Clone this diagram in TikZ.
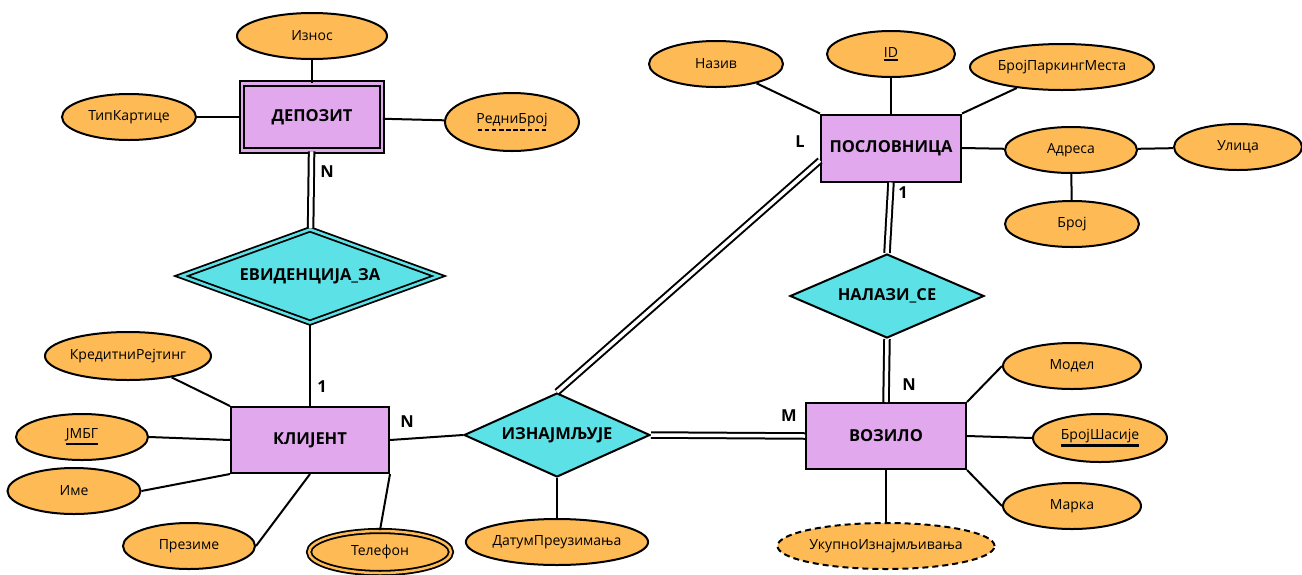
\documentclass[tikz,border=0pt]{standalone}
\usepackage{fontspec}
\setmainfont{Open Sans}
\usetikzlibrary{shapes.geometric}

\definecolor{attrorange}{HTML}{FDBA55}
\definecolor{entviolet}{HTML}{E1A8EE}
\definecolor{relcyan}{HTML}{5CE1E6}

\newcommand{\solidunder}[1]{\setbox0\hbox{#1}\vtop{\copy0\kern1.5pt\hrule height 2.2pt width\wd0}}
\newcommand{\dashunder}[1]{\setbox0\hbox{#1}\vtop{\offinterlineskip\copy0\kern2pt\hbox to\wd0{\xleaders\hbox to 7pt{\hss\vrule height 2.4pt width 4.5pt\hss}\hfill}}}

\tikzset{
  entity/.style={draw, line width=2pt, fill=entviolet, minimum width=158pt, minimum height=66pt,
    font=\fontsize{16.5}{19}\selectfont\bfseries},
  weakentity/.style={entity, double=entviolet, double distance=2.5pt, line width=1.8pt,
    minimum width=140pt, minimum height=67pt},
  attr/.style={draw, ellipse, line width=2pt, fill=attrorange, minimum width=134pt, minimum height=46pt,
    inner sep=0pt, font=\fontsize{14}{17}\selectfont},
  multiattr/.style={attr, double=attrorange, double distance=2.5pt, line width=1.8pt},
  derivattr/.style={attr, dashed, dash pattern=on 6pt off 4pt},
  rel/.style={draw, diamond, line width=2pt, fill=relcyan, inner sep=0pt,
    font=\fontsize{16.5}{19}\selectfont\bfseries},
  identrel/.style={rel, double=relcyan, double distance=2.5pt, line width=1.8pt},
  conn/.style={line width=2pt},
  total/.style={double, double distance=3.5pt, line width=2pt},
  card/.style={font=\fontsize{16.5}{19}\selectfont\bfseries}
}

\begin{document}
\begin{tikzpicture}[x=1pt,y=-1pt]
        \useasboundingbox (0,0) rectangle (1302,574);

        % entities
        \node[weakentity] (depozit) at (312,117) {ДЕПОЗИТ};
        \node[entity] (klijent) at (310,440) {КЛИЈЕНТ};
        \node[entity, minimum width=140pt, minimum height=67pt] (poslovnica) at (891,148) {ПОСЛОВНИЦА};
        \node[entity, minimum width=160pt] (vozilo) at (886,436) {ВОЗИЛО};

        % relationships
        \node[identrel, aspect=2.74, minimum width=258pt, minimum height=94pt] (evidencija) at (310,276) {ЕВИДЕНЦИЈА\_ЗА};
        \node[rel, aspect=2.21, minimum width=186pt, minimum height=84pt] (iznajmljuje) at (557,435) {ИЗНАЈМЉУЈЕ};
        \node[rel, aspect=2.31, minimum width=194pt, minimum height=84pt] (nalazise) at (887,296) {НАЛАЗИ\_СЕ};

        % attributes
        \node[attr, minimum width=150pt] (iznos) at (312,36) {Износ};
        \node[attr] (tipkartice) at (129,117) {ТипКартице};
        \node[attr, minimum height=58pt] (rednibroj) at (512,122) {\dashunder{РедниБрој}};
        \node[attr, minimum width=166pt, minimum height=48pt] (kreditni) at (128,356) {КредитниРејтинг};
        \node[attr, minimum width=132pt] (jmbg) at (82,437) {\solidunder{ЈМБГ}};
        \node[attr, minimum width=133pt] (ime) at (74,491) {Име};
        \node[attr, minimum width=132pt] (prezime) at (189,546) {Презиме};
        \node[multiattr, minimum width=142pt, minimum height=42pt] (telefon) at (380,552) {Телефон};
        \node[attr, minimum width=174pt] (datum) at (557,542) {ДатумПреузимања};
        \node[derivattr, minimum width=216pt] (ukupno) at (886,546) {УкупноИзнајмљивања};
        \node[attr] (naziv) at (716,64) {Назив};
        \node[attr, minimum width=128pt] (id) at (891,54) {\solidunder{ID}};
        \node[attr, minimum width=184pt] (brojparking) at (1062,67) {БројПаркингМеста};
        \node[attr, minimum width=132pt] (adresa) at (1071,150) {Адреса};
        \node[attr, minimum width=128pt] (ulica) at (1238,147) {Улица};
        \node[attr] (broj) at (1072,224) {Број};
        \node[attr, minimum width=138pt] (model) at (1072,366) {Модел};
        \node[attr, minimum height=48pt] (brojsasije) at (1100,438) {\solidunder{БројШасије}};
        \node[attr, minimum width=138pt] (marka) at (1072,506) {Марка};

        % connectors
        \draw[conn] (iznos) -- (depozit);
        \draw[conn] (tipkartice) -- (depozit);
        \draw[conn] (rednibroj) -- (depozit);
        \draw[total] (depozit) -- (evidencija);
        \draw[conn] (evidencija) -- (klijent);
        \draw[conn] (kreditni) -- (klijent.north west);
        \draw[conn] (jmbg.east) -- (klijent.west);
        \draw[conn] (ime.east) -- (klijent.south west);
        \draw[conn] (prezime.east) -- (klijent.south);
        \draw[conn] (telefon.north) -- (klijent.south east);
        \draw[conn] (klijent.east) -- (iznajmljuje.west);
        \draw[conn] (iznajmljuje.south) -- (datum.north);
        \draw[total] (iznajmljuje.east) -- (vozilo.west);
        \draw[total] (iznajmljuje.north) -- (poslovnica.190);
        \draw[conn] (naziv) -- (poslovnica.north west);
        \draw[conn] (id) -- (poslovnica.north);
        \draw[conn] (brojparking) -- (poslovnica.north east);
        \draw[conn] (poslovnica.east) -- (adresa);
        \draw[conn] (adresa) -- (ulica);
        \draw[conn] (adresa) -- (broj);
        \draw[total] (poslovnica.south) -- (nalazise.north);
        \draw[total] (nalazise.south) -- (vozilo.north);
        \draw[conn] (model.west) -- (vozilo.north east);
        \draw[conn] (brojsasije.west) -- (vozilo.east);
        \draw[conn] (marka.west) -- (vozilo.south east);
        \draw[conn] (ukupno.north) -- (vozilo.south);

        % cardinalities
        \node[card] (cdep) at (327,172) {N};
        \node[card] (ckl1) at (322,387) {1};
        \node[card] (ckl2) at (407,422) {N};
        \node[card] (cpos1) at (800,142) {L};
        \node[card] (cpos2) at (903,193) {1};
        \node[card] (cvoz1) at (909,385) {N};
        \node[card] (cvoz2) at (789,416) {M};
\end{tikzpicture}
\end{document}
